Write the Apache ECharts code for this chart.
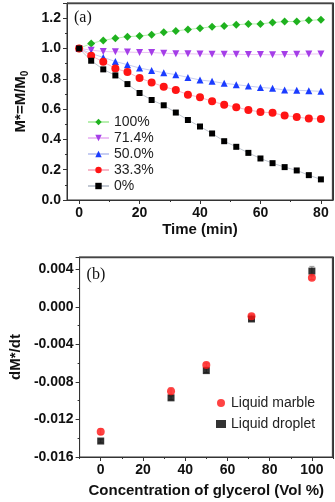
<!DOCTYPE html>
<html><head><meta charset="utf-8">
<script src="https://cdn.jsdelivr.net/npm/echarts@6/dist/echarts.min.js"></script>
<style>html,body{margin:0;padding:0;background:#fff}#c{width:335px;height:502px}</style>
</head><body><div id="c"></div>
<script>
// ---- Panel (a) data ----
const timeMin = [0,4,8,12,16,20,24,28,32,36,40,44,48,52,56,60,64,68,72,76,80];
const m100 = [1.000,1.033,1.053,1.068,1.077,1.083,1.090,1.107,1.116,1.125,1.134,1.143,1.149,1.156,1.162,1.162,1.171,1.178,1.178,1.186,1.189];
const m714 = [1.000,0.989,0.980,0.978,0.976,0.974,0.973,0.969,0.965,0.965,0.963,0.962,0.962,0.961,0.960,0.960,0.958,0.960,0.961,0.963,0.964];
const m500 = [1.000,0.967,0.941,0.914,0.893,0.871,0.855,0.840,0.827,0.809,0.792,0.783,0.770,0.761,0.752,0.743,0.737,0.726,0.724,0.721,0.717];
const m333 = [1.000,0.952,0.912,0.868,0.844,0.805,0.776,0.748,0.726,0.695,0.678,0.651,0.629,0.612,0.594,0.581,0.575,0.557,0.548,0.537,0.535];
const m0   = [1.000,0.919,0.862,0.822,0.765,0.706,0.660,0.625,0.577,0.528,0.485,0.439,0.388,0.351,0.311,0.274,0.243,0.217,0.195,0.164,0.136];
const seriesNamesA = ['100%','71.4%','50.0%','33.3%','0%'];
const xTicksA = [0,20,40,60,80];
const xMinorA = [10,30,50,70];

// ---- Panel (b) data ----
const glycerolPct = [0,33.3,50,71.4,100];
const marble  = [-0.0133,-0.0090,-0.0062,-0.0010,0.0031];
const marbleErr = [0.0003,0.0004,0.0002,0.0002,0.0002];
const droplet = [-0.0143,-0.0097,-0.0068,-0.0013,0.0038];
const dropletErr = [0.0002,0.0002,0.0002,0.0002,0.0005];
const seriesNamesB = ['Liquid marble','Liquid droplet'];
const xTicksB = [0,20,40,60,80,100];
const xMinorB = [-10,10,30,50,70,90,110];

const FONT = 'Liberation Sans';
const axisColor = '#333';
const tickLabel = {fontFamily: FONT, fontWeight: 'bold', fontSize: 14, color: '#111'};

function pairs(xs, ys){ return xs.map((x,i)=>[x, ys[i]]); }
function triples(xs, ys, es){ return xs.map((x,i)=>[x, ys[i], es[i]]); }

function mainX(grid, min, max, ticks, name, gap){
  return {
    type:'value', gridIndex:grid, min:min, max:max, position:'bottom',
    axisLine:{show:true, onZero:false, lineStyle:{color:axisColor, width:1}},
    axisTick:{show:true, length:4, customValues:ticks, lineStyle:{color:axisColor}},
    axisLabel:Object.assign({customValues:ticks, margin:6}, tickLabel),
    splitLine:{show:false},
    name:name, nameLocation:'middle', nameGap:gap,
    nameTextStyle:{fontFamily:FONT, fontWeight:'bold', fontSize:15, color:'#111'}
  };
}
function minorX(grid, min, max, ticks){
  return {
    type:'value', gridIndex:grid, min:min, max:max, position:'bottom', offset:0,
    axisLine:{show:false, onZero:false}, axisLabel:{show:false}, splitLine:{show:false},
    axisTick:{show:true, length:2, customValues:ticks, lineStyle:{color:axisColor}}
  };
}
function borderX(grid, min, max){
  return {type:'value', gridIndex:grid, min:min, max:max, position:'top',
    axisLine:{show:true, onZero:false, lineStyle:{color:axisColor, width:1}},
    axisTick:{show:false}, axisLabel:{show:false}, splitLine:{show:false}};
}
function borderY(grid, min, max){
  return {type:'value', gridIndex:grid, min:min, max:max, position:'right',
    axisLine:{show:true, onZero:false, lineStyle:{color:axisColor, width:1}},
    axisTick:{show:false}, axisLabel:{show:false}, splitLine:{show:false}};
}

const errorItem = function(color){
  return function(params, api){
    const x = api.value(0), y = api.value(1), e = api.value(2);
    const t = api.coord([x, y+e]), b = api.coord([x, y-e]);
    const w = 2.5;
    const st = {stroke: color, lineWidth: 1};
    return {type:'group', children:[
      {type:'line', shape:{x1:t[0], y1:t[1], x2:b[0], y2:b[1]}, style:st},
      {type:'line', shape:{x1:t[0]-w, y1:t[1], x2:t[0]+w, y2:t[1]}, style:st},
      {type:'line', shape:{x1:b[0]-w, y1:b[1], x2:b[0]+w, y2:b[1]}, style:st}
    ]};
  };
};

const lineSeries = function(name, data, color, lineColor, symbol, size, rot){
  return {
    type:'line', name:name, xAxisIndex:0, yAxisIndex:0, data:pairs(timeMin, data),
    symbol:symbol, symbolSize:size, symbolRotate:rot||0, showSymbol:true,
    itemStyle:{color:color}, lineStyle:{color:lineColor, width:1},
    animation:false, z:3
  };
};

const chart = echarts.init(document.getElementById('c'));
chart.setOption({
  backgroundColor:'#fff',
  animation:false,
  textStyle:{fontFamily:FONT},
  grid:[
    {left:67, right:2, top:3, height:197, show:true, borderColor:axisColor, borderWidth:1},
    {left:67, right:2, top:257, height:200, show:true, borderColor:axisColor, borderWidth:1}
  ],
  xAxis:[
    mainX(0, -4, 84, xTicksA, 'Time (min)', 22),
    minorX(0, -4, 84, xMinorA),
    borderX(0, -4, 84),
    mainX(1, -10, 110, xTicksB, 'Concentration of glycerol (Vol %)', 26),
    minorX(1, -10, 110, xMinorB),
    borderX(1, -10, 110)
  ],
  yAxis:[
    {type:'value', gridIndex:0, min:0, max:1.3, interval:0.2,
     axisLine:{show:true, onZero:false, lineStyle:{color:axisColor}},
     axisTick:{show:true, length:4, lineStyle:{color:axisColor}},
     minorTick:{show:true, splitNumber:2, length:2, lineStyle:{color:axisColor}},
     axisLabel:Object.assign({margin:6, showMaxLabel:false, formatter:v=>v.toFixed(1)}, tickLabel),
     splitLine:{show:false},
     name:'{b|M*=M/M}{s|0}', nameLocation:'middle', nameGap:30,
     nameTextStyle:{rich:{
       b:{fontFamily:FONT, fontWeight:'bold', fontSize:15, color:'#111', lineHeight:18, verticalAlign:'top'},
       s:{fontFamily:FONT, fontWeight:'bold', fontSize:10, color:'#111', lineHeight:18, padding:[7,0,0,0], verticalAlign:'top'}
     }}
    },
    borderY(0, 0, 1.3),
    {type:'value', gridIndex:1, min:-0.016, max:0.0053, interval:0.004,
     axisLine:{show:true, onZero:false, lineStyle:{color:axisColor}},
     axisTick:{show:true, length:4, lineStyle:{color:axisColor}},
     minorTick:{show:true, splitNumber:2, length:2, lineStyle:{color:axisColor}},
     axisLabel:Object.assign({margin:6, showMaxLabel:false, formatter:v=>(Math.abs(v)<1e-9?0:v).toFixed(3)}, tickLabel),
     splitLine:{show:false},
     name:'dM*/dt', nameLocation:'middle', nameGap:49,
     nameTextStyle:{fontFamily:FONT, fontWeight:'bold', fontSize:15, color:'#111'}
    },
    borderY(1, -0.016, 0.0053)
  ],
  legend:[
    {data:seriesNamesA, orient:'vertical', left:82, top:110, itemWidth:21, itemHeight:8, itemGap:2,
     textStyle:{fontFamily:FONT, fontSize:14, color:'#222'}, selectedMode:false},
    {data:seriesNamesB, orient:'vertical', left:211, top:391, itemWidth:10, itemHeight:8, itemGap:7,
     textStyle:{fontFamily:FONT, fontSize:14, color:'#222'}, selectedMode:false}
  ],
  series:[
    lineSeries('100%', m100, '#1fb21f', '#b8efb0', 'diamond', 8),
    lineSeries('71.4%', m714, '#a53ee8', '#ecc0f5', 'triangle', 7, 180),
    lineSeries('50.0%', m500, '#1b3cff', '#c6cdf2', 'triangle', 7),
    lineSeries('33.3%', m333, '#ff1414', '#f7b8c8', 'circle', 8),
    lineSeries('0%', m0, '#000000', '#c2c8d2', 'rect', 6),
    {type:'custom', xAxisIndex:3, yAxisIndex:2, data:triples(glycerolPct, marble, marbleErr),
     renderItem:errorItem('#f0a8a8'), z:1, silent:true, animation:false},
    {type:'custom', xAxisIndex:3, yAxisIndex:2, data:triples(glycerolPct, droplet, dropletErr),
     renderItem:errorItem('#999999'), z:1, silent:true, animation:false},
    {type:'scatter', name:'Liquid marble', xAxisIndex:3, yAxisIndex:2, data:pairs(glycerolPct, marble),
     symbol:'circle', symbolSize:8, itemStyle:{color:'#ff1414'}, z:3, animation:false},
    {type:'scatter', name:'Liquid droplet', xAxisIndex:3, yAxisIndex:2, data:pairs(glycerolPct, droplet),
     symbol:'rect', symbolSize:7, itemStyle:{color:'#000000'}, z:2, animation:false}
  ]
});

// Panel labels and frame (top/right edges) derived from the library's grid layout
const gfx = [];
[0,1].forEach(function(gi){
  let r = null;
  try { r = chart.getModel().getComponent('grid', gi).coordinateSystem.getRect(); } catch(e) { r = null; }
  if (!r) return;
  const st = {stroke: '#444', lineWidth: 1.3};
  gfx.push({type:'line', z:100, silent:true, shape:{x1:r.x, y1:r.y + 0.5, x2:r.x + r.width, y2:r.y + 0.5}, style:st});
  gfx.push({type:'line', z:100, silent:true, shape:{x1:r.x + r.width - 0.5, y1:r.y, x2:r.x + r.width - 0.5, y2:r.y + r.height}, style:st});
  gfx.push({type:'text', z:100, silent:true, x:r.x + 7, y:r.y + (gi === 0 ? 7 : 10),
            style:{text: gi === 0 ? '(a)' : '(b)', font:'16px "Liberation Serif"', fill:'#111'}});
});
chart.setOption({graphic: gfx});
</script>
</body></html>
